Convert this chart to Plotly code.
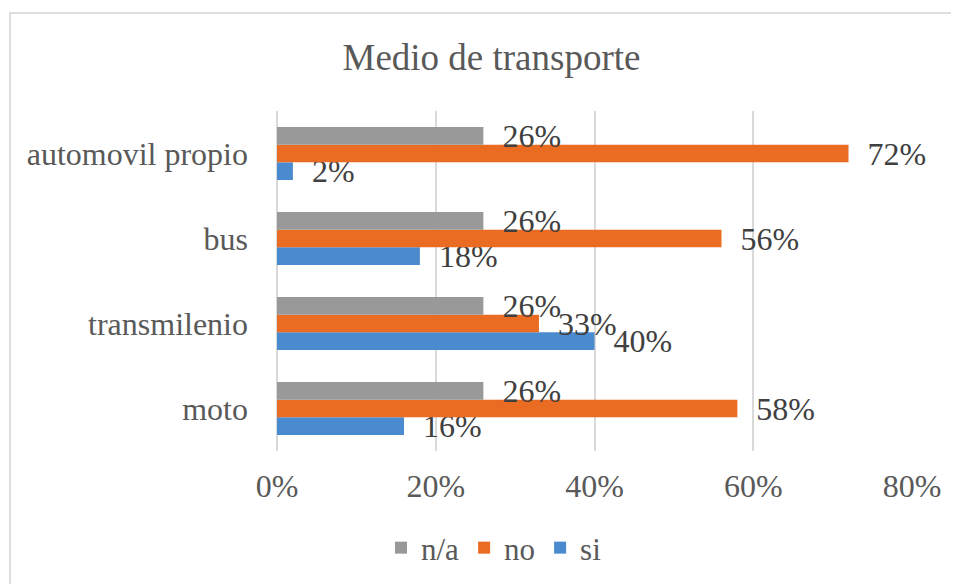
import plotly.graph_objects as go

categories = ["moto", "transmilenio", "bus", "automovil propio"]
si_values = [0.16, 0.40, 0.18, 0.02]
no_values = [0.58, 0.33, 0.56, 0.72]
na_values = [0.26, 0.26, 0.26, 0.26]
x_ticks = [0, 0.2, 0.4, 0.6, 0.8]
x_tick_labels = ["0%", "20%", "40%", "60%", "80%"]

FONT = "Liberation Serif, Times New Roman, serif"
TXT = "#595959"
LBL = "#404040"
OFF = 8  # page body margin offset

series = [
    ("si", si_values, "#4A8ACF"),
    ("no", no_values, "#EA6B22"),
    ("n/a", na_values, "#999999"),
]

fig = go.Figure()
for name, vals, color in series:
    fig.add_trace(go.Bar(
        name=name, y=categories, x=vals, orientation="h",
        marker=dict(color=color, line=dict(width=0)),
        texttemplate="\u00a0\u00a0%{x:.0%}", textposition="outside",
        textfont=dict(family=FONT, size=32, color=LBL),
        constraintext="none", cliponaxis=False,
    ))

L, T = 277 - OFF, 111 - OFF
R = 959 - (912 - OFF)
B = 584 - (451 - OFF)
PW, PH = 959 - L - R, 584 - T - B

fig.update_layout(
    width=959, height=584,
    margin=dict(l=L, r=R, t=T, b=B),
    paper_bgcolor="white", plot_bgcolor="white",
    barmode="group", bargap=0.376, bargroupgap=0,
    font=dict(family=FONT, size=31, color=TXT),
    title=dict(text="Medio de transporte", x=(491.5 - OFF) / 959, xref="container", xanchor="center",
               y=1 - (57 - OFF) / 584, yref="container", yanchor="middle",
               font=dict(family=FONT, size=37, color=TXT)),
    showlegend=True,
    legend=dict(orientation="h", traceorder="reversed", xref="container", yref="container",
                x=(494 - OFF) / 959, xanchor="center", y=(584 - (548 - OFF)) / 584, yanchor="middle",
                font=dict(family=FONT, size=31, color=TXT), bgcolor="rgba(0,0,0,0)"),
    xaxis=dict(range=[0, 0.8], tickvals=x_ticks, ticktext=x_tick_labels,
               showgrid=True, gridcolor="#D9D9D9", gridwidth=1.5,
               zeroline=True, zerolinecolor="#D9D9D9", zerolinewidth=1.5,
               showline=False, ticks="", ticklabelstandoff=13,
               tickfont=dict(family=FONT, size=32, color=TXT), fixedrange=True),
    yaxis=dict(categoryorder="array", categoryarray=categories, showgrid=False,
               zeroline=False, showline=False, ticks="", ticklabelstandoff=28,
               tickfont=dict(family=FONT, size=32, color=TXT), fixedrange=True),
    shapes=[dict(type="rect", xref="paper", yref="paper",
                 x0=(10 - OFF - L) / PW, x1=1.3, y0=-0.6, y1=1 + (T - (13 - OFF)) / PH,
                 line=dict(color="#D4D4D4", width=1.5), fillcolor="rgba(0,0,0,0)", layer="below")],
)

fig.write_html("out.html")
